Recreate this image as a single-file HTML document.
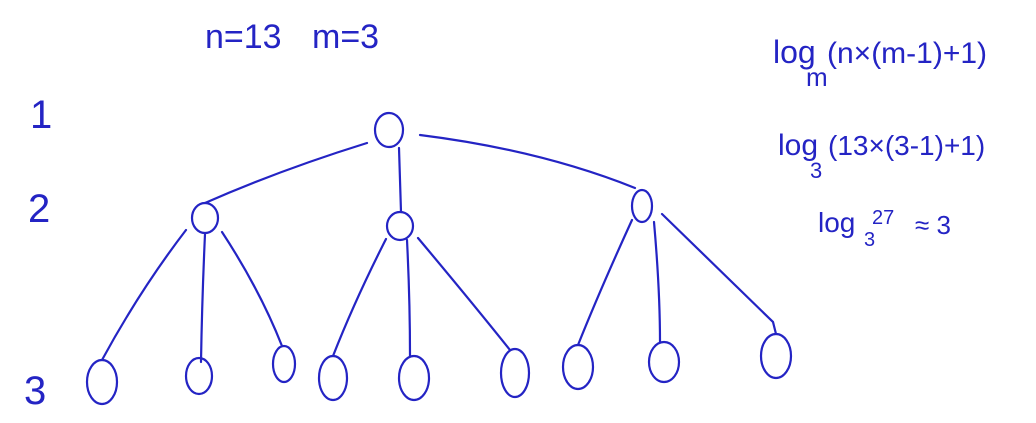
<!DOCTYPE html>
<html><head><meta charset="utf-8"><style>
html,body{margin:0;padding:0;background:#fff;width:1036px;height:423px;overflow:hidden}
svg{display:block}
text{font-family:"Liberation Sans",sans-serif;fill:#2424c4}
</style></head><body>
<svg width="1036" height="423" viewBox="0 0 1036 423">
<g fill="none" stroke="#2424c4" stroke-width="2.2" stroke-linecap="round">
<ellipse cx="389" cy="130" rx="14" ry="17"/>
<ellipse cx="205" cy="218" rx="13" ry="15"/>
<ellipse cx="400" cy="226" rx="13" ry="14"/>
<ellipse cx="642" cy="206" rx="10" ry="16"/>
<ellipse cx="102" cy="382" rx="15" ry="22"/>
<ellipse cx="199" cy="376" rx="13" ry="18"/>
<ellipse cx="284" cy="364" rx="11" ry="18"/>
<ellipse cx="333" cy="378" rx="14" ry="22"/>
<ellipse cx="414" cy="378" rx="15" ry="22"/>
<ellipse cx="515" cy="373" rx="14" ry="24"/>
<ellipse cx="578" cy="367" rx="15" ry="22"/>
<ellipse cx="664" cy="362" rx="15" ry="20"/>
<ellipse cx="776" cy="356" rx="15" ry="22"/>
<path d="M367 143 Q280 170 205 203"/>
<path d="M399 148 L401 212"/>
<path d="M420 135 Q540 150 635 188"/>
<path d="M186 230 Q140 290 102 360"/>
<path d="M205 234 Q202 300 201 362"/>
<path d="M222 232 Q260 290 282 346"/>
<path d="M386 239 Q355 300 333 356"/>
<path d="M407 240 Q410 300 410 356"/>
<path d="M418 238 Q470 300 510 350"/>
<path d="M632 220 Q600 290 578 345"/>
<path d="M654 222 Q660 290 660 342"/>
<path d="M662 214 Q730 280 773 322 L776 334"/>
</g>
<text x="205" y="48" font-size="34">n=13</text>
<text x="312" y="48" font-size="34">m=3</text>
<text x="30" y="128" font-size="40">1</text>
<text x="28" y="222" font-size="40">2</text>
<text x="24" y="404" font-size="40">3</text>
<text x="773" y="63" font-size="32">log</text>
<text x="806" y="86" font-size="26">m</text>
<text x="827" y="63" font-size="30">(n×(m-1)+1)</text>
<text x="778" y="155" font-size="30">log</text>
<text x="810" y="178" font-size="22">3</text>
<text x="828" y="155" font-size="28">(13×(3-1)+1)</text>
<text x="818" y="232" font-size="28">log</text>
<text x="864" y="246" font-size="20">3</text>
<text x="872" y="224" font-size="20">27</text>
<text x="915" y="234" font-size="26">≈ 3</text>
</svg>
</body></html>
